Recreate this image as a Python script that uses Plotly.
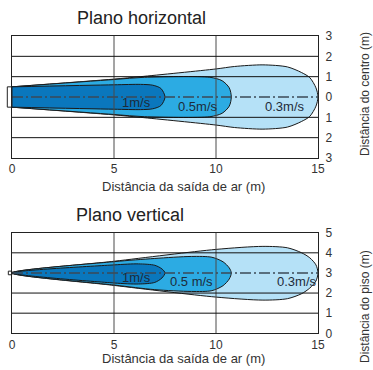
import plotly.graph_objects as go

# ---------------- data ----------------
x_ticks = [0, 5, 10, 15]
h_ticks = [-3, -2, -1, 0, 1, 2, 3]
h_ticktext = ["3", "2", "1", "0", "1", "2", "3"]
v_ticks = [0, 1, 2, 3, 4, 5]
v_ticktext = ["0", "1", "2", "3", "4", "5"]

speed_labels = ["0.3m/s", "0.5m/s", "1m/s"]          # outer -> inner
speed_labels_v = ["0.3m/s", "0.5 m/s", "1m/s"]

# Horizontal plane: jet half-width (m) along throw distance (m)
h_outer_x = [0, 5, 6.3, 10, 10.9, 12.3, 13.5, 14.2, 14.6, 14.9, 15]
h_outer_w = [0.5, 0.88, 1.0, 1.38, 1.5, 1.58, 1.48, 1.2, 0.95, 0.45, 0]
h_mid_x = [0, 5, 6.5, 9.7, 10.3, 10.65, 10.75]
h_mid_w = [0.5, 0.86, 0.97, 0.97, 0.8, 0.45, 0]
h_inner_x = [0, 5, 6.3, 6.9, 7.3, 7.5]
h_inner_w = [0.5, 0.6, 0.62, 0.58, 0.42, 0]
h_center = 0
h_outlet_half = 0.5
h_outlet_depth = 0.23

# Vertical plane: upper / lower edge heights from floor (m)
v_outer_x = [0, 5, 10, 12.3, 13.5, 14.2, 14.6, 14.9, 15]
v_outer_top = [3, 3.58, 4.17, 4.32, 4.25, 4.0, 3.75, 3.4, 3.0]
v_outer_bot = [3, 2.38, 1.8, 1.65, 1.72, 1.97, 2.25, 2.6, 3.0]
v_mid_x = [0, 5, 7, 8.8, 9.8, 10.35, 10.65, 10.75]
v_mid_top = [3, 3.56, 3.72, 3.82, 3.78, 3.55, 3.25, 3.0]
v_mid_bot = [3, 2.4, 2.17, 2.08, 2.12, 2.37, 2.7, 3.0]
v_inner_x = [0, 5, 6.2, 7.0, 7.35, 7.5]
v_inner_top = [3, 3.4, 3.45, 3.38, 3.2, 3.0]
v_inner_bot = [3, 2.5, 2.45, 2.53, 2.75, 3.0]
v_center = 3
v_outlet_half = 0.09
v_outlet_depth = 0.18

# label anchor points (distance, offset)
h_label_pos = [(13.4, -0.47), (9.1, -0.47), (6.1, -0.27)]
v_label_pos = [(13.95, 2.55), (8.8, 2.55), (6.1, 2.78)]

# ---------------- style ----------------
FONT = "Liberation Sans, Arial, sans-serif"
colors = ["#b5e1f7", "#2cabe3", "#0a77bd"]
X_RANGE = [0, 15]
H_RANGE = [-3, 3]
V_RANGE = [0, 5]

fig = go.Figure()


def add_region(xs, top, bot, color, xa, ya):
    px = list(xs) + list(xs[::-1][1:])
    py = list(top) + list(bot[::-1][1:])
    fig.add_trace(go.Scatter(
        x=px, y=py, mode="lines", fill="toself", fillcolor=color,
        line=dict(color="#1a1a1a", width=1, shape="spline", smoothing=0.8),
        xaxis=xa, yaxis=ya, hoverinfo="skip", showlegend=False))


# horizontal plane regions
for xs, w, c in [(h_outer_x, h_outer_w, colors[0]),
                 (h_mid_x, h_mid_w, colors[1]),
                 (h_inner_x, h_inner_w, colors[2])]:
    add_region(xs, [h_center + v for v in w], [h_center - v for v in w], c, "x", "y")

# vertical plane regions
for xs, t, b, c in [(v_outer_x, v_outer_top, v_outer_bot, colors[0]),
                    (v_mid_x, v_mid_top, v_mid_bot, colors[1]),
                    (v_inner_x, v_inner_top, v_inner_bot, colors[2])]:
    add_region(xs, t, b, c, "x2", "y2")

# centre lines
for xa, ya, cy in [("x", "y", h_center), ("x2", "y2", v_center)]:
    fig.add_trace(go.Scatter(
        x=X_RANGE, y=[cy, cy], mode="lines",
        line=dict(color="#3b4a57", width=1.5, dash="11px,3px,2px,3px"),
        xaxis=xa, yaxis=ya, hoverinfo="skip", showlegend=False))

shapes = []
# grid lines drawn above the filled regions
for xr, yr, yt, yrange, cy in [("x", "y", h_ticks, H_RANGE, h_center),
                                ("x2", "y2", v_ticks, V_RANGE, v_center)]:
    for xv in x_ticks[1:-1]:
        shapes.append(dict(type="line", xref=xr, yref=yr, x0=xv, x1=xv,
                           y0=yrange[0], y1=yrange[1], layer="above",
                           line=dict(color="#4a4a4a", width=1)))
    for yv in yt[1:-1]:
        if yv == cy:
            continue
        shapes.append(dict(type="line", xref=xr, yref=yr, x0=X_RANGE[0], x1=X_RANGE[1],
                           y0=yv, y1=yv, layer="above",
                           line=dict(color="#111111", width=1)))

# outlet rectangles (just outside the plot area)
span = X_RANGE[1] - X_RANGE[0]
for xr, yr, cy, half, depth, yrange in [("x domain", "y domain", h_center, h_outlet_half, h_outlet_depth, H_RANGE),
                                        ("x2 domain", "y2 domain", v_center, v_outlet_half, v_outlet_depth, V_RANGE)]:
    hgt = yrange[1] - yrange[0]
    shapes.append(dict(type="rect", xref=xr, yref=yr,
                       x0=-depth / span, x1=0,
                       y0=(cy - half - yrange[0]) / hgt, y1=(cy + half - yrange[0]) / hgt,
                       line=dict(color="#222222", width=1), fillcolor="rgba(0,0,0,0)",
                       layer="above"))

W, H = 373, 370
xdom = [12 / W, 318 / W]
ydom_top = [1 - 158 / H, 1 - 36 / H]
ydom_bot = [1 - 333.3 / H, 1 - 232.7 / H]

axis_common = dict(showgrid=False, zeroline=False, showline=True, mirror=True,
                   linecolor="#222222", linewidth=1, ticks="",
                   tickfont=dict(family=FONT, size=12, color="#333333"))

annotations = []
for lab, (lx, ly) in zip(speed_labels, h_label_pos):
    annotations.append(dict(x=lx, y=ly, xref="x", yref="y", text=lab, showarrow=False,
                            xanchor="center", yanchor="middle",
                            font=dict(family=FONT, size=13, color="#1d2b3a")))
for lab, (lx, ly) in zip(speed_labels_v, v_label_pos):
    annotations.append(dict(x=lx, y=ly, xref="x2", yref="y2", text=lab, showarrow=False,
                            xanchor="center", yanchor="middle",
                            font=dict(family=FONT, size=13, color="#1d2b3a")))

def pap_y(py):
    return 1 - py / H

def pap_x(px):
    return px / W

def text_ann(px, py, text, size, color, angle=0):
    return dict(x=pap_x(px), y=pap_y(py), xref="paper", yref="paper", text=text,
                xanchor="center", yanchor="middle", textangle=angle, showarrow=False,
                font=dict(family=FONT, size=size, color=color))

annotations += [
    text_ann(141.5, 18, "Plano horizontal", 18, "#222222"),
    text_ann(130, 215, "Plano vertical", 18, "#222222"),
    text_ann(183, 187, "Distância da saída de ar (m)", 13, "#333333"),
    text_ann(183, 358, "Distância da saída de ar (m)", 13, "#333333"),
    text_ann(365, 94, "Distância do centro (m)", 12, "#333333", -90),
    text_ann(365, 307, "Distância do piso (m)", 12, "#333333", -90),
]

fig.update_layout(
    width=W, height=H, margin=dict(l=0, r=0, t=0, b=0, autoexpand=False),
    paper_bgcolor="white", plot_bgcolor="white", showlegend=False,
    xaxis=dict(domain=xdom, range=X_RANGE, anchor="y", tickvals=x_ticks, **axis_common),
    yaxis=dict(domain=ydom_top, range=H_RANGE, anchor="x", side="right",
               tickvals=h_ticks, ticktext=h_ticktext, ticklabelstandoff=4, **axis_common),
    xaxis2=dict(domain=xdom, range=X_RANGE, anchor="y2", tickvals=x_ticks, **axis_common),
    yaxis2=dict(domain=ydom_bot, range=V_RANGE, anchor="x2", side="right",
                tickvals=v_ticks, ticktext=v_ticktext, ticklabelstandoff=4, **axis_common),
    shapes=shapes, annotations=annotations,
)

fig.write_html("out.html")
